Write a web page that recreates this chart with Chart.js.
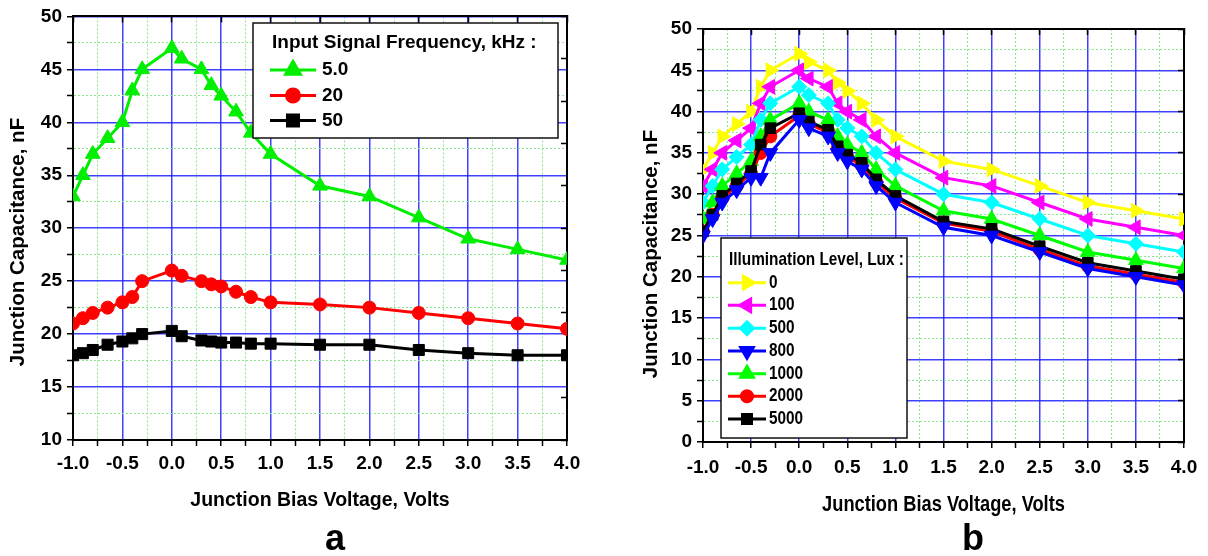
<!DOCTYPE html>
<html>
<head>
<meta charset="utf-8">
<script src="https://cdn.jsdelivr.net/npm/chart.js@4.4.0/dist/chart.umd.min.js"></script>
<style>
  body { margin: 0; background: #fff; }
  #wrap { position: relative; width: 1208px; height: 556px; }
  canvas { position: absolute; top: 0; }
</style>
</head>
<body>
<div id="wrap">
  <canvas id="canvas1" width="604" height="556" style="left:0;width:604px;height:556px"></canvas>
  <canvas id="canvas2" width="604" height="556" style="left:604px;width:604px;height:556px"></canvas>
</div>
<script>
// bias voltage points (V), shared by both panels
const biasVolts = [-1.0, -0.9, -0.8, -0.65, -0.5, -0.4, -0.3, 0.0, 0.1, 0.3, 0.4, 0.5, 0.65, 0.8, 1.0, 1.5, 2.0, 2.5, 3.0, 3.5, 4.0];

// panel a : capacitance (nF) vs input signal frequency
const freqLabels = ['5.0', '20', '50'];
const cap5kHz  = [33, 35, 37, 38.5, 40, 43, 45, 47, 46, 45, 43.5, 42.5, 41, 39, 37, 34, 33, 31, 29, 28, 27];
const cap20kHz = [21, 21.5, 22, 22.5, 23, 23.5, 25, 26, 25.5, 25, 24.7, 24.5, 24, 23.5, 23, 22.8, 22.5, 22, 21.5, 21, 20.5];
const cap50kHz = [18, 18.2, 18.5, 19, 19.3, 19.6, 20, 20.3, 19.8, 19.4, 19.3, 19.2, 19.2, 19.1, 19.1, 19.0, 19.0, 18.5, 18.2, 18.0, 18.0];

// panel b : capacitance (nF) vs illumination level
const luxLabels = ['0', '100', '500', '800', '1000', '2000', '5000'];
const capLux0    = [33, 35, 37, 38.5, 40, 43, 45, 47, 46, 45, 43.5, 42.5, 41, 39, 37, 34, 33, 31, 29, 28, 27];
const capLux100  = [31, 33, 35, 36.5, 38, 41, 43, 45, 44, 43, 41, 40, 39, 37, 35, 32, 31, 29, 27, 26, 25];
const capLux500  = [29, 31, 33, 34.5, 36, 39, 41, 43, 42, 41, 39, 38, 37, 35, 33, 30, 29, 27, 25, 24, 23];
const capLux800  = [25, 27, 29, 30.5, 32, 32, 35, 39, 38, 37, 35, 34, 33, 31, 29, 26, 25, 23, 21, 20, 19];
const capLux1000 = [27, 29, 31, 32.5, 34, 37, 39, 41, 40, 39, 37, 36, 35, 33, 31, 28, 27, 25, 23, 22, 21];
const capLux2000 = [25.5, 27.5, 29.5, 31, 32.5, 35, 37, 39.5, 38.5, 37.5, 35.5, 34.5, 33.5, 31.5, 29.5, 26.5, 25.5, 23.3, 21.3, 20.3, 19.3];
const capLux5000 = [25.5, 27.5, 29.8, 31.3, 32.8, 36, 38, 39.8, 38.8, 37.8, 35.8, 34.8, 33.8, 31.8, 29.8, 26.7, 25.8, 23.7, 21.7, 20.7, 19.7];

const xTitle = 'Junction Bias Voltage, Volts';
const yTitle = 'Junction Capacitance, nF';

const SANS = '"Liberation Sans", Arial, sans-serif';

const isMajor = (v, step) => Math.abs(v / step - Math.round(v / step)) < 1e-6;
const pts = ys => biasVolts.map((x, i) => ({ x: x, y: ys[i] }));

const series = (label, ys, color, style, rot, radius, order) => ({
  label: label,
  data: pts(ys),
  borderColor: color,
  backgroundColor: color,
  borderWidth: 3,
  pointStyle: style,
  rotation: rot,
  pointRadius: radius,
  pointHoverRadius: radius,
  pointBorderWidth: 1,
  tension: 0,
  clip: 0,
  order: order
});

// linear axes with major blue grid, dotted green minor grid and ticks at every minor step
const axes = (cfg) => ({
  x: {
    type: 'linear', position: 'bottom', min: -1, max: 4,
    ticks: {
      stepSize: 0.25, autoSkip: false, maxRotation: 0, padding: cfg.xPad, color: '#000',
      font: { family: SANS, size: cfg.tickSize, weight: 'bold' },
      callback: v => isMajor(v, 0.5) ? v.toFixed(1) : ''
    },
    grid: {
      color: c => c.tick && isMajor(c.tick.value, 0.5) ? 'rgba(30,30,255,0.85)' : '#8be88b',
      lineWidth: c => c.tick && isMajor(c.tick.value, 0.5) ? 1.5 : 1,
      tickColor: '#000', tickLength: 6, tickWidth: 1.5
    },
    border: { color: '#000', width: 2, dash: c => c.tick && !isMajor(c.tick.value, 0.5) ? [2, 2] : [] },
    afterFit: s => { s.height = cfg.xHeight; }
  },
  y: {
    type: 'linear', position: 'left', min: cfg.yMin, max: 50,
    ticks: {
      stepSize: 2.5, autoSkip: false, padding: 5, color: '#000',
      font: { family: SANS, size: cfg.tickSize, weight: 'bold' },
      callback: v => isMajor(v, 5) ? String(v) : ''
    },
    grid: {
      color: c => c.tick && isMajor(c.tick.value, 5) ? 'rgba(30,30,255,0.85)' : '#8be88b',
      lineWidth: c => c.tick && isMajor(c.tick.value, 5) ? 1.5 : 1,
      tickColor: '#000', tickLength: 6, tickWidth: 1.5
    },
    border: { color: '#000', width: 2, dash: c => c.tick && !isMajor(c.tick.value, 5) ? [2, 2] : [] },
    afterFit: s => { s.width = cfg.yWidth; }
  },
  x2: {
    type: 'linear', position: 'top', min: -1, max: 4,
    ticks: { stepSize: 0.5, display: false },
    grid: { drawOnChartArea: false, tickColor: '#000', tickLength: -6, tickWidth: 1.5 },
    border: { color: '#000', width: 2 },
    afterFit: s => { s.height = 0; }
  },
  y2: {
    type: 'linear', position: 'right', min: cfg.yMin, max: 50,
    ticks: { stepSize: cfg.rightStep, display: false },
    grid: { drawOnChartArea: false, tickColor: '#000', tickLength: -6, tickWidth: 1.5 },
    border: { color: '#000', width: 2 },
    afterFit: s => { s.width = 0; }
  }
});

// text squeezed horizontally by sq (1 = normal width)
const squeezed = (ctx, str, x, y, sq) => {
  ctx.save();
  ctx.translate(x, y);
  ctx.scale(sq, 1);
  ctx.fillText(str, 0, 0);
  ctx.restore();
};

// axis titles, panel letter and the boxed legend
const overlay = (cfg) => ({
  id: 'overlay',
  afterDraw(chart) {
    const ctx = chart.ctx;
    const area = chart.chartArea;
    ctx.save();
    ctx.fillStyle = '#000';
    ctx.textAlign = 'center';
    ctx.textBaseline = 'alphabetic';
    ctx.font = 'bold ' + cfg.xTitleSize + 'px ' + SANS;
    squeezed(ctx, xTitle, (area.left + area.right) / 2, cfg.xTitleY, cfg.squeeze);
    ctx.save();
    ctx.translate(cfg.yTitleX, cfg.yTitleY);
    ctx.rotate(-Math.PI / 2);
    ctx.textBaseline = 'middle';
    ctx.font = 'bold 20.5px ' + SANS;
    ctx.fillText(yTitle, 0, 0);
    ctx.restore();
    ctx.font = 'bold 36px ' + SANS;
    ctx.fillText(cfg.letter, cfg.letterX, 550);

    const lg = cfg.legend;
    ctx.fillStyle = '#fff';
    ctx.fillRect(lg.x, lg.y, lg.w, lg.h);
    ctx.strokeStyle = '#111';
    ctx.lineWidth = 1.5;
    ctx.strokeRect(lg.x, lg.y, lg.w, lg.h);
    ctx.fillStyle = '#000';
    ctx.textAlign = 'left';
    ctx.textBaseline = 'middle';
    ctx.font = 'bold ' + lg.size + 'px ' + SANS;
    squeezed(ctx, lg.title, lg.titleX, lg.titleY, cfg.squeeze);
    chart.data.datasets.forEach((ds, i) => {
      const y = lg.rowY[i];
      ctx.strokeStyle = ds.borderColor;
      ctx.lineWidth = 3;
      ctx.beginPath();
      ctx.moveTo(lg.lineX0, y);
      ctx.lineTo(lg.lineX1, y);
      ctx.stroke();
      ctx.fillStyle = ds.backgroundColor;
      Chart.helpers.drawPoint(ctx, {
        pointStyle: ds.pointStyle, rotation: ds.rotation,
        radius: ds.pointRadius * lg.markScale, borderWidth: 1
      }, (lg.lineX0 + lg.lineX1) / 2, y);
      ctx.fillStyle = '#000';
      squeezed(ctx, ds.label, lg.textX, y, cfg.squeeze);
    });
    ctx.restore();
  }
});

window.addEventListener('load', () => {
  const canvas1 = document.getElementById('canvas1');
  const canvas2 = document.getElementById('canvas2');

  new Chart(canvas1, {
    type: 'line',
    data: {
      datasets: [
        series(freqLabels[0], cap5kHz, '#00ee00', 'triangle', 0, 8.5, 0),
        series(freqLabels[1], cap20kHz, '#ff0000', 'circle', 0, 6.5, 1),
        series(freqLabels[2], cap50kHz, '#000000', 'rect', 0, 7.8, 2)
      ]
    },
    options: {
      responsive: false,
      animation: false,
      devicePixelRatio: 1,
      layout: { padding: { left: 0, top: 16, right: 37, bottom: 0 } },
      plugins: { legend: { display: false }, tooltip: { enabled: false } },
      scales: axes({ yMin: 10, rightStep: 4, xPad: 6, xHeight: 116, yWidth: 73, tickSize: 19 })
    },
    plugins: [overlay({
      squeeze: 1,
      xTitleSize: 19.5, xTitleY: 506,
      yTitleX: 18, yTitleY: 242,
      letter: 'a', letterX: 335,
      legend: {
        x: 253, y: 23, w: 305, h: 115, size: 19,
        title: 'Input Signal Frequency, kHz :', titleX: 272, titleY: 43,
        rowY: [70, 95.5, 120.5], lineX0: 270, lineX1: 316, textX: 322, markScale: 1
      }
    })]
  });

  new Chart(canvas2, {
    type: 'line',
    data: {
      datasets: [
        series(luxLabels[0], capLux0, '#ffff00', 'triangle', 90, 8.5, 6),
        series(luxLabels[1], capLux100, '#ff00ff', 'triangle', -90, 8.5, 5),
        series(luxLabels[2], capLux500, '#00ffff', 'rectRot', 0, 7.5, 4),
        series(luxLabels[3], capLux800, '#0000ff', 'triangle', 180, 8.5, 0),
        series(luxLabels[4], capLux1000, '#00ff00', 'triangle', 0, 8.5, 3),
        series(luxLabels[5], capLux2000, '#ff0000', 'circle', 0, 6.5, 2),
        series(luxLabels[6], capLux5000, '#000000', 'rect', 0, 7.5, 1)
      ]
    },
    options: {
      responsive: false,
      animation: false,
      devicePixelRatio: 1,
      layout: { padding: { left: 0, top: 29, right: 24, bottom: 0 } },
      plugins: { legend: { display: false }, tooltip: { enabled: false } },
      scales: axes({ yMin: 0, rightStep: 5, xPad: 8, xHeight: 114, yWidth: 99, tickSize: 19 })
    },
    plugins: [overlay({
      squeeze: 0.83,
      xTitleSize: 22, xTitleY: 511,
      yTitleX: 47, yTitleY: 254,
      letter: 'b', letterX: 369,
      legend: {
        x: 117, y: 238, w: 186, h: 200, size: 18.5,
        title: 'Illumination Level, Lux :', titleX: 125, titleY: 260,
        rowY: [282.7, 305.3, 328.3, 351, 373.7, 396.3, 419], lineX0: 124, lineX1: 162, textX: 165, markScale: 0.85
      }
    })]
  });
});
</script>
</body>
</html>
